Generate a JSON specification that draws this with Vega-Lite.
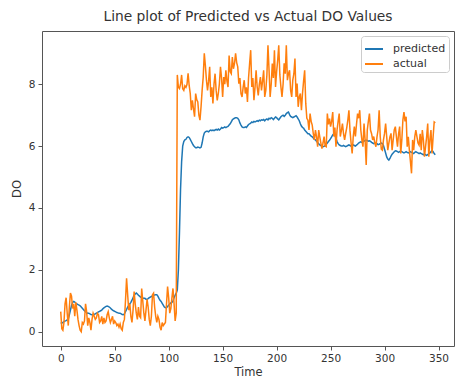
{
  "$schema": "https://vega.github.io/schema/vega-lite/v6.json",
  "autosize": "none",
  "width": 412,
  "height": 315,
  "padding": {"left": 42, "top": 31, "right": 8, "bottom": 41},
  "background": "white",
  "title": {"text": "Line plot of Predicted vs Actual DO Values", "fontSize": 13.8, "font": "DejaVu Sans", "fontWeight": "normal", "color": "#333", "offset": 7, "anchor": "middle"},
  "config": {
    "view": {"stroke": "#555", "strokeWidth": 1},
    "axis": {"labelFont": "DejaVu Sans", "titleFont": "DejaVu Sans", "labelFontSize": 10.5, "titleFontSize": 11.5, "labelColor": "#333", "titleColor": "#333", "titleFontWeight": "normal", "tickColor": "#555", "tickSize": 4, "labelPadding": 3, "grid": false, "domain": false}
  },
  "data": {"values": [
{"t":0,"predicted":0.30,"actual":0.65},{"t":1,"predicted":0.28,"actual":0.1},{"t":2,"predicted":0.30,"actual":0.05},{"t":3,"predicted":0.33,"actual":0.3},{"t":4,"predicted":0.35,"actual":0.9},{"t":5,"predicted":0.36,"actual":1.1},{"t":6,"predicted":0.38,"actual":0.6},{"t":7,"predicted":0.42,"actual":0.2},{"t":8,"predicted":0.55,"actual":0.8},{"t":9,"predicted":0.70,"actual":1.25},
{"t":10,"predicted":0.85,"actual":1.15},{"t":11,"predicted":0.95,"actual":0.75},{"t":12,"predicted":0.98,"actual":0.9},{"t":13,"predicted":0.96,"actual":0.5},{"t":14,"predicted":0.92,"actual":0.95},{"t":15,"predicted":0.90,"actual":0.7},{"t":16,"predicted":0.88,"actual":0.4},{"t":17,"predicted":0.86,"actual":0.2},{"t":18,"predicted":0.84,"actual":0.05},{"t":19,"predicted":0.80,"actual":0.0},
{"t":20,"predicted":0.76,"actual":0.3},{"t":21,"predicted":0.72,"actual":0.25},{"t":22,"predicted":0.68,"actual":0.35},{"t":23,"predicted":0.65,"actual":0.9},{"t":24,"predicted":0.62,"actual":0.65},{"t":25,"predicted":0.60,"actual":0.2},{"t":26,"predicted":0.60,"actual":0.45},{"t":27,"predicted":0.58,"actual":0.3},{"t":28,"predicted":0.56,"actual":0.05},{"t":29,"predicted":0.55,"actual":0.4},
{"t":30,"predicted":0.55,"actual":0.6},{"t":31,"predicted":0.56,"actual":0.5},{"t":32,"predicted":0.58,"actual":0.4},{"t":33,"predicted":0.60,"actual":0.45},{"t":34,"predicted":0.62,"actual":0.6},{"t":35,"predicted":0.64,"actual":0.55},{"t":36,"predicted":0.66,"actual":0.3},{"t":37,"predicted":0.68,"actual":0.35},{"t":38,"predicted":0.70,"actual":0.5},{"t":39,"predicted":0.74,"actual":0.25},
{"t":40,"predicted":0.77,"actual":0.45},{"t":41,"predicted":0.80,"actual":0.3},{"t":42,"predicted":0.82,"actual":0.35},{"t":43,"predicted":0.83,"actual":0.55},{"t":44,"predicted":0.82,"actual":0.65},{"t":45,"predicted":0.80,"actual":0.45},{"t":46,"predicted":0.77,"actual":0.3},{"t":47,"predicted":0.73,"actual":0.4},{"t":48,"predicted":0.70,"actual":0.5},{"t":49,"predicted":0.68,"actual":0.25},
{"t":50,"predicted":0.66,"actual":0.35},{"t":51,"predicted":0.64,"actual":0.3},{"t":52,"predicted":0.62,"actual":0.2},{"t":53,"predicted":0.61,"actual":0.25},{"t":54,"predicted":0.60,"actual":0.15},{"t":55,"predicted":0.60,"actual":0.25},{"t":56,"predicted":0.58,"actual":0.1},{"t":57,"predicted":0.56,"actual":0.05},{"t":58,"predicted":0.55,"actual":0.3},{"t":59,"predicted":0.58,"actual":0.4},
{"t":60,"predicted":0.65,"actual":1.0},{"t":61,"predicted":0.72,"actual":1.73},{"t":62,"predicted":0.80,"actual":1.2},{"t":63,"predicted":0.85,"actual":0.7},{"t":64,"predicted":0.90,"actual":0.9},{"t":65,"predicted":0.95,"actual":0.5},{"t":66,"predicted":1.02,"actual":0.3},{"t":67,"predicted":1.10,"actual":0.7},{"t":68,"predicted":1.18,"actual":1.3},{"t":69,"predicted":1.22,"actual":0.9},
{"t":70,"predicted":1.25,"actual":0.6},{"t":71,"predicted":1.22,"actual":0.4},{"t":72,"predicted":1.18,"actual":0.8},{"t":73,"predicted":1.15,"actual":0.5},{"t":74,"predicted":1.12,"actual":0.45},{"t":75,"predicted":1.10,"actual":1.4},{"t":76,"predicted":1.09,"actual":1.0},{"t":77,"predicted":1.08,"actual":0.6},{"t":78,"predicted":1.08,"actual":0.35},{"t":79,"predicted":1.05,"actual":0.7},
{"t":80,"predicted":1.05,"actual":1.05},{"t":81,"predicted":1.07,"actual":0.8},{"t":82,"predicted":1.10,"actual":0.4},{"t":83,"predicted":1.12,"actual":0.2},{"t":84,"predicted":1.14,"actual":0.5},{"t":85,"predicted":1.16,"actual":1.2},{"t":86,"predicted":1.18,"actual":1.25},{"t":87,"predicted":1.19,"actual":0.8},{"t":88,"predicted":1.20,"actual":0.5},{"t":89,"predicted":1.20,"actual":0.3},
{"t":90,"predicted":1.15,"actual":0.5},{"t":91,"predicted":1.08,"actual":0.4},{"t":92,"predicted":1.02,"actual":0.15},{"t":93,"predicted":0.98,"actual":0.05},{"t":94,"predicted":0.92,"actual":0.3},{"t":95,"predicted":0.86,"actual":0.2},{"t":96,"predicted":0.80,"actual":0.25},{"t":97,"predicted":0.78,"actual":0.3},{"t":98,"predicted":0.78,"actual":0.9},{"t":99,"predicted":0.82,"actual":1.46},
{"t":100,"predicted":0.86,"actual":1.1},{"t":101,"predicted":0.90,"actual":0.6},{"t":102,"predicted":0.93,"actual":0.75},{"t":103,"predicted":0.95,"actual":1.1},{"t":104,"predicted":1.00,"actual":1.4},{"t":105,"predicted":1.10,"actual":0.9},{"t":106,"predicted":1.18,"actual":0.35},{"t":107,"predicted":1.25,"actual":0.6},{"t":108,"predicted":1.35,"actual":8.3},{"t":109,"predicted":2.0,"actual":7.9},
{"t":110,"predicted":3.2,"actual":7.86},{"t":111,"predicted":4.6,"actual":8.0},{"t":112,"predicted":5.5,"actual":8.3},{"t":113,"predicted":6.0,"actual":7.85},{"t":114,"predicted":6.15,"actual":7.8},{"t":115,"predicted":6.2,"actual":7.95},{"t":116,"predicted":6.22,"actual":7.9},{"t":117,"predicted":6.28,"actual":8.0},{"t":118,"predicted":6.3,"actual":8.35},{"t":119,"predicted":6.28,"actual":7.96},
{"t":120,"predicted":6.22,"actual":7.7},{"t":121,"predicted":6.15,"actual":7.16},{"t":122,"predicted":6.08,"actual":7.48},{"t":123,"predicted":6.02,"actual":7.2},{"t":124,"predicted":5.98,"actual":6.95},{"t":125,"predicted":5.95,"actual":7.7},{"t":126,"predicted":5.95,"actual":7.5},{"t":127,"predicted":5.97,"actual":7.43},{"t":128,"predicted":5.96,"actual":7.0},{"t":129,"predicted":5.94,"actual":6.84},
{"t":130,"predicted":5.96,"actual":7.27},{"t":131,"predicted":6.1,"actual":7.8},{"t":132,"predicted":6.3,"actual":8.23},{"t":133,"predicted":6.42,"actual":9.0},{"t":134,"predicted":6.46,"actual":8.6},{"t":135,"predicted":6.48,"actual":8.13},{"t":136,"predicted":6.48,"actual":7.8},{"t":137,"predicted":6.46,"actual":8.1},{"t":138,"predicted":6.5,"actual":8.56},{"t":139,"predicted":6.52,"actual":7.59},
{"t":140,"predicted":6.5,"actual":7.9},{"t":141,"predicted":6.52,"actual":7.38},{"t":142,"predicted":6.5,"actual":8.0},{"t":143,"predicted":6.52,"actual":8.34},{"t":144,"predicted":6.54,"actual":7.8},{"t":145,"predicted":6.52,"actual":7.48},{"t":146,"predicted":6.55,"actual":7.7},{"t":147,"predicted":6.52,"actual":8.02},{"t":148,"predicted":6.55,"actual":8.56},{"t":149,"predicted":6.6,"actual":8.2},
{"t":150,"predicted":6.58,"actual":7.59},{"t":151,"predicted":6.6,"actual":8.23},{"t":152,"predicted":6.62,"actual":8.0},{"t":153,"predicted":6.6,"actual":8.45},{"t":154,"predicted":6.62,"actual":8.1},{"t":155,"predicted":6.64,"actual":7.91},{"t":156,"predicted":6.68,"actual":8.93},{"t":157,"predicted":6.72,"actual":8.4},{"t":158,"predicted":6.78,"actual":8.34},{"t":159,"predicted":6.85,"actual":8.88},
{"t":160,"predicted":6.88,"actual":8.5},{"t":161,"predicted":6.9,"actual":8.67},{"t":162,"predicted":6.92,"actual":9.0},{"t":163,"predicted":6.92,"actual":8.7},{"t":164,"predicted":6.9,"actual":8.56},{"t":165,"predicted":6.85,"actual":8.02},{"t":166,"predicted":6.75,"actual":8.2},{"t":167,"predicted":6.68,"actual":7.7},{"t":168,"predicted":6.62,"actual":7.59},{"t":169,"predicted":6.6,"actual":7.9},
{"t":170,"predicted":6.6,"actual":8.13},{"t":171,"predicted":6.62,"actual":7.7},{"t":172,"predicted":6.6,"actual":7.9},{"t":173,"predicted":6.65,"actual":7.43},{"t":174,"predicted":6.7,"actual":8.2},{"t":175,"predicted":6.72,"actual":8.67},{"t":176,"predicted":6.74,"actual":9.1},{"t":177,"predicted":6.78,"actual":7.91},{"t":178,"predicted":6.76,"actual":8.2},{"t":179,"predicted":6.8,"actual":7.48},
{"t":180,"predicted":6.78,"actual":7.9},{"t":181,"predicted":6.8,"actual":8.45},{"t":182,"predicted":6.82,"actual":7.91},{"t":183,"predicted":6.8,"actual":7.64},{"t":184,"predicted":6.84,"actual":8.0},{"t":185,"predicted":6.82,"actual":8.23},{"t":186,"predicted":6.85,"actual":7.8},{"t":187,"predicted":6.84,"actual":8.1},{"t":188,"predicted":6.86,"actual":8.45},{"t":189,"predicted":6.82,"actual":7.59},
{"t":190,"predicted":6.86,"actual":7.8},{"t":191,"predicted":6.88,"actual":8.3},{"t":192,"predicted":6.85,"actual":9.26},{"t":193,"predicted":6.9,"actual":8.45},{"t":194,"predicted":6.88,"actual":7.59},{"t":195,"predicted":6.92,"actual":8.0},{"t":196,"predicted":6.9,"actual":8.67},{"t":197,"predicted":6.86,"actual":8.2},{"t":198,"predicted":6.9,"actual":9.1},{"t":199,"predicted":6.94,"actual":7.91},
{"t":200,"predicted":6.92,"actual":8.4},{"t":201,"predicted":6.88,"actual":8.77},{"t":202,"predicted":6.85,"actual":9.26},{"t":203,"predicted":6.9,"actual":8.3},{"t":204,"predicted":6.95,"actual":7.91},{"t":205,"predicted":6.98,"actual":7.59},{"t":206,"predicted":7.0,"actual":8.0},{"t":207,"predicted":6.96,"actual":8.68},{"t":208,"predicted":7.0,"actual":8.34},{"t":209,"predicted":7.05,"actual":9.26},
{"t":210,"predicted":7.08,"actual":8.13},{"t":211,"predicted":7.1,"actual":8.34},{"t":212,"predicted":7.02,"actual":8.45},{"t":213,"predicted":6.96,"actual":7.8},{"t":214,"predicted":6.94,"actual":7.59},{"t":215,"predicted":6.92,"actual":8.13},{"t":216,"predicted":6.94,"actual":8.34},{"t":217,"predicted":6.96,"actual":8.83},{"t":218,"predicted":6.98,"actual":7.59},{"t":219,"predicted":6.94,"actual":8.02},
{"t":220,"predicted":6.88,"actual":7.27},{"t":221,"predicted":6.82,"actual":7.59},{"t":222,"predicted":6.72,"actual":7.7},{"t":223,"predicted":6.65,"actual":7.16},{"t":224,"predicted":6.6,"actual":7.7},{"t":225,"predicted":6.58,"actual":8.1},{"t":226,"predicted":6.52,"actual":8.45},{"t":227,"predicted":6.48,"actual":7.38},{"t":228,"predicted":6.44,"actual":6.9},{"t":229,"predicted":6.4,"actual":6.84},
{"t":230,"predicted":6.4,"actual":6.52},{"t":231,"predicted":6.36,"actual":7.05},{"t":232,"predicted":6.32,"actual":6.8},{"t":233,"predicted":6.3,"actual":6.68},{"t":234,"predicted":6.26,"actual":6.4},{"t":235,"predicted":6.22,"actual":6.2},{"t":236,"predicted":6.2,"actual":6.52},{"t":237,"predicted":6.16,"actual":6.3},{"t":238,"predicted":6.12,"actual":5.98},{"t":239,"predicted":6.08,"actual":6.52},
{"t":240,"predicted":6.04,"actual":6.3},{"t":241,"predicted":6.02,"actual":6.1},{"t":242,"predicted":6.0,"actual":5.92},{"t":243,"predicted":5.98,"actual":6.1},{"t":244,"predicted":5.99,"actual":6.31},{"t":245,"predicted":6.02,"actual":6.0},{"t":246,"predicted":6.06,"actual":5.98},{"t":247,"predicted":6.1,"actual":7.05},{"t":248,"predicted":6.15,"actual":6.7},{"t":249,"predicted":6.19,"actual":6.89},
{"t":250,"predicted":6.24,"actual":6.63},{"t":251,"predicted":6.3,"actual":6.8},{"t":252,"predicted":6.36,"actual":7.1},{"t":253,"predicted":6.4,"actual":6.31},{"t":254,"predicted":6.35,"actual":6.6},{"t":255,"predicted":6.25,"actual":5.98},{"t":256,"predicted":6.15,"actual":6.52},{"t":257,"predicted":6.08,"actual":6.8},{"t":258,"predicted":6.04,"actual":7.05},{"t":259,"predicted":6.02,"actual":6.31},
{"t":260,"predicted":6.0,"actual":6.5},{"t":261,"predicted":6.0,"actual":6.73},{"t":262,"predicted":6.02,"actual":6.4},{"t":263,"predicted":6.0,"actual":6.2},{"t":264,"predicted":5.98,"actual":6.41},{"t":265,"predicted":6.0,"actual":6.6},{"t":266,"predicted":6.02,"actual":6.84},{"t":267,"predicted":6.04,"actual":7.16},{"t":268,"predicted":6.02,"actual":6.5},{"t":269,"predicted":6.0,"actual":6.1},
{"t":270,"predicted":6.02,"actual":5.76},{"t":271,"predicted":6.04,"actual":6.3},{"t":272,"predicted":6.02,"actual":6.63},{"t":273,"predicted":6.0,"actual":6.31},{"t":274,"predicted":6.03,"actual":6.7},{"t":275,"predicted":6.06,"actual":7.05},{"t":276,"predicted":6.1,"actual":6.9},{"t":277,"predicted":6.12,"actual":7.16},{"t":278,"predicted":6.14,"actual":6.52},{"t":279,"predicted":6.12,"actual":6.2},
{"t":280,"predicted":6.14,"actual":5.98},{"t":281,"predicted":6.16,"actual":6.73},{"t":282,"predicted":6.18,"actual":6.2},{"t":283,"predicted":6.19,"actual":5.39},{"t":284,"predicted":6.18,"actual":6.52},{"t":285,"predicted":6.16,"actual":6.8},{"t":286,"predicted":6.17,"actual":7.05},{"t":287,"predicted":6.15,"actual":6.52},{"t":288,"predicted":6.12,"actual":6.4},{"t":289,"predicted":6.1,"actual":6.2},
{"t":290,"predicted":6.08,"actual":6.31},{"t":291,"predicted":6.09,"actual":6.1},{"t":292,"predicted":6.1,"actual":5.98},{"t":293,"predicted":6.08,"actual":6.3},{"t":294,"predicted":6.05,"actual":6.52},{"t":295,"predicted":6.06,"actual":7.16},{"t":296,"predicted":6.08,"actual":6.31},{"t":297,"predicted":6.1,"actual":5.9},{"t":298,"predicted":6.08,"actual":5.87},{"t":299,"predicted":6.02,"actual":6.2},
{"t":300,"predicted":5.9,"actual":6.41},{"t":301,"predicted":5.78,"actual":6.73},{"t":302,"predicted":5.65,"actual":6.3},{"t":303,"predicted":5.58,"actual":5.87},{"t":304,"predicted":5.55,"actual":6.1},{"t":305,"predicted":5.6,"actual":6.3},{"t":306,"predicted":5.68,"actual":6.41},{"t":307,"predicted":5.74,"actual":5.87},{"t":308,"predicted":5.78,"actual":6.2},{"t":309,"predicted":5.82,"actual":6.52},
{"t":310,"predicted":5.85,"actual":6.63},{"t":311,"predicted":5.84,"actual":6.3},{"t":312,"predicted":5.82,"actual":5.98},{"t":313,"predicted":5.8,"actual":6.4},{"t":314,"predicted":5.82,"actual":6.63},{"t":315,"predicted":5.84,"actual":5.76},{"t":316,"predicted":5.82,"actual":6.2},{"t":317,"predicted":5.8,"actual":6.84},{"t":318,"predicted":5.78,"actual":7.1},{"t":319,"predicted":5.8,"actual":6.8},
{"t":320,"predicted":5.82,"actual":6.95},{"t":321,"predicted":5.8,"actual":5.98},{"t":322,"predicted":5.78,"actual":6.3},{"t":323,"predicted":5.8,"actual":5.87},{"t":324,"predicted":5.82,"actual":5.5},{"t":325,"predicted":5.8,"actual":5.12},{"t":326,"predicted":5.78,"actual":6.2},{"t":327,"predicted":5.76,"actual":5.87},{"t":328,"predicted":5.8,"actual":6.3},{"t":329,"predicted":5.82,"actual":6.52},
{"t":330,"predicted":5.8,"actual":6.31},{"t":331,"predicted":5.78,"actual":6.1},{"t":332,"predicted":5.76,"actual":6.03},{"t":333,"predicted":5.78,"actual":6.4},{"t":334,"predicted":5.76,"actual":5.87},{"t":335,"predicted":5.74,"actual":6.52},{"t":336,"predicted":5.72,"actual":6.2},{"t":337,"predicted":5.74,"actual":5.66},{"t":338,"predicted":5.72,"actual":5.98},{"t":339,"predicted":5.7,"actual":6.3},
{"t":340,"predicted":5.72,"actual":6.73},{"t":341,"predicted":5.76,"actual":5.66},{"t":342,"predicted":5.78,"actual":6.2},{"t":343,"predicted":5.82,"actual":6.52},{"t":344,"predicted":5.86,"actual":5.76},{"t":345,"predicted":5.82,"actual":6.3},{"t":346,"predicted":5.76,"actual":6.78},{"t":347,"predicted":5.72,"actual":6.75}
  ]},
  "transform": [{"fold": ["predicted", "actual"], "as": ["series", "DO"]}],
  "mark": {"type": "line", "strokeWidth": 1.5, "clip": true},
  "encoding": {
    "x": {"field": "t", "type": "quantitative", "title": "Time", "scale": {"domain": [-17.35, 364.35], "nice": false, "zero": false}, "axis": {"values": [0, 50, 100, 150, 200, 250, 300, 350], "titlePadding": 3}},
    "y": {"field": "DO", "type": "quantitative", "title": "DO", "scale": {"domain": [-0.46, 9.72], "nice": false, "zero": false}, "axis": {"values": [0, 2, 4, 6, 8], "titlePadding": 6}},
    "color": {"field": "series", "type": "nominal", "scale": {"domain": ["predicted", "actual"], "range": ["#1f77b4", "#ff7f0e"]},
      "legend": {"title": null, "orient": "top-right", "offset": 5, "symbolType": "stroke", "symbolSize": 324, "symbolStrokeWidth": 2, "labelFont": "DejaVu Sans", "labelFontSize": 11, "labelColor": "#333", "fillColor": "white", "strokeColor": "#ccc", "cornerRadius": 3, "padding": 3, "rowPadding": 0, "labelOffset": 9}},
    "order": {"field": "t", "type": "quantitative"}
  }
}
